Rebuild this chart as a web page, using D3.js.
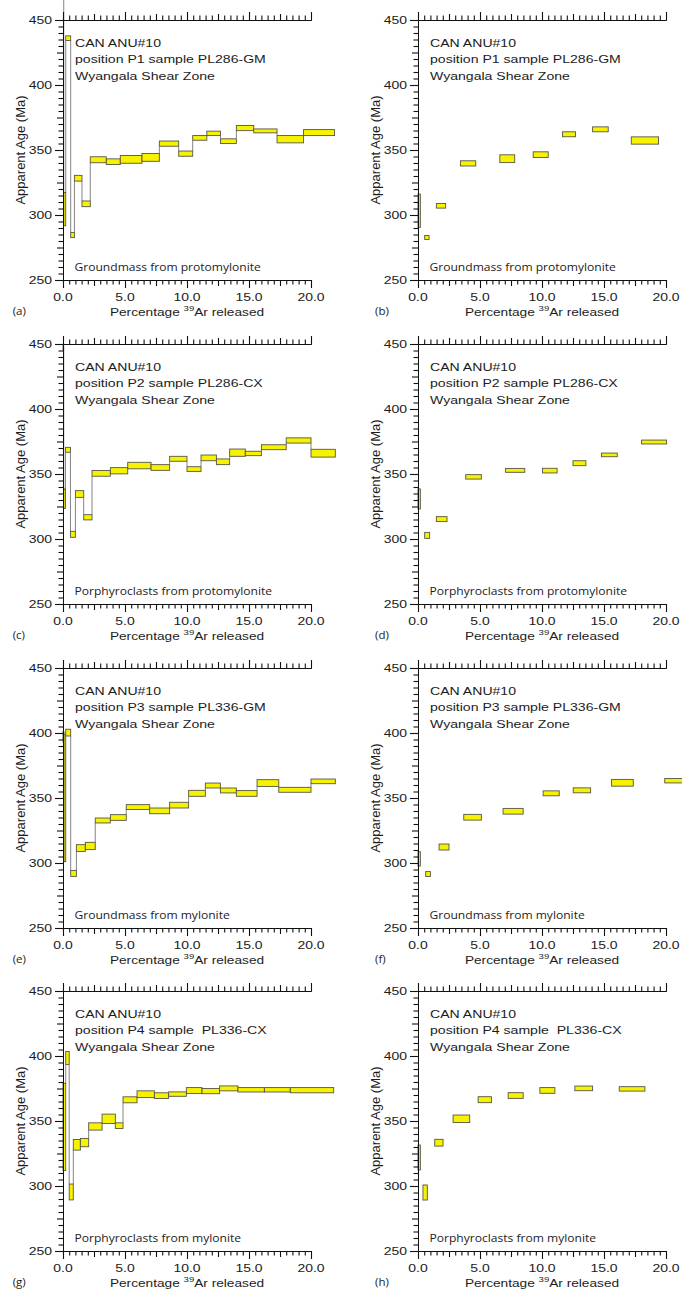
<!DOCTYPE html>
<html><head><meta charset="utf-8">
<script src="https://cdn.jsdelivr.net/npm/d3@7"></script>
<style>
html,body{margin:0;padding:0;background:#fff;}
svg{display:block;}
text{white-space:pre;}
</style></head><body>
<svg id="chart" width="682" height="1297"></svg>
<script>
// ---------- DATA ----------
// Left column: contiguous step-heating spectra (cumulative % 39Ar boundaries, age, 1-sigma error)
const boundsA = [0, 0.06, 0.22, 0.62, 0.92, 1.53, 2.2, 3.49, 4.62, 6.37, 7.77, 9.33, 10.46, 11.6, 12.7, 13.98, 15.38, 17.26, 19.4, 21.9];
const agesA   = [480, 304.5, 436, 284.6, 328.3, 308.6, 342.5, 341, 342.8, 344.3, 354.9, 347.2, 359.3, 362.8, 356.8, 366.9, 364.7, 358.3, 363.4];
const errsA   = [5, 12.8, 1.8, 2, 2.2, 2.2, 2.3, 2.2, 3, 3, 2, 2, 1.8, 1.7, 1.8, 2, 1.5, 2.8, 2.3];

const boundsC = [0, 0.06, 0.2, 0.6, 1.0, 1.67, 2.34, 3.82, 5.22, 7.1, 8.6, 10.0, 11.13, 12.37, 13.44, 14.7, 16.0, 18.0, 20.0, 21.96];
const agesC   = [447, 331, 368.6, 303.6, 334.6, 316.7, 350.5, 352.5, 356.5, 355, 361.7, 353.8, 362.4, 359.4, 366.4, 365.8, 370.6, 375.8, 366];
const errsC   = [1.5, 7.5, 1.9, 2.3, 2.6, 2, 2.2, 2.4, 2.5, 2.2, 1.9, 1.8, 2.2, 2.2, 2.8, 1.7, 1.9, 2, 3];

const boundsE = [0, 0.08, 0.22, 0.62, 1.08, 1.8, 2.6, 3.82, 5.1, 6.99, 8.6, 10.13, 11.48, 12.69, 13.98, 15.65, 17.4, 20.0, 21.96];
const agesE   = [397, 350, 400.3, 292, 311.5, 313.1, 332.7, 335, 343, 340.1, 344.5, 353.6, 359.6, 355.8, 353.5, 361.5, 356.3, 362.8];
const errsE   = [4, 49, 2.6, 2.3, 2.6, 2.8, 1.9, 2.2, 1.9, 2.2, 2.2, 2.3, 1.9, 1.9, 2.2, 2.6, 1.9, 1.8];

const boundsG = [0, 0.22, 0.5, 0.83, 1.4, 2.07, 3.15, 4.22, 4.84, 5.97, 7.37, 8.52, 9.95, 11.21, 12.63, 14.11, 16.24, 18.33, 21.83];
const agesG   = [345.5, 398.5, 295.4, 331.7, 333.4, 345.8, 351.7, 346.4, 366.3, 370.6, 369.5, 370.7, 373.4, 373, 375.1, 374, 374, 373.7];
const errsG   = [33.5, 5, 6.1, 4.1, 3.2, 2.8, 3.6, 2.2, 2.3, 2.6, 2.2, 1.7, 2.3, 2, 1.9, 1.7, 1.7, 2];

// Right column: selected steps (start %, end %, age, error)
const startB = [0, 0.54, 1.48, 3.42, 6.6, 9.29, 11.65, 14.08, 17.2];
const endB   = [0.19, 0.89, 2.23, 4.66, 7.8, 10.5, 12.7, 15.34, 19.4];
const ageB   = [303.3, 282.7, 307.1, 339.7, 343.3, 346.4, 362.1, 365.9, 357.3];
const errB   = [12.8, 1.5, 1.8, 2, 3, 2.2, 1.9, 1.9, 2.8];

const startD = [0, 0.54, 1.48, 3.85, 7.05, 10.04, 12.5, 14.8, 18.03];
const endD   = [0.19, 0.94, 2.34, 5.11, 8.61, 11.22, 13.54, 16.07, 20.05];
const ageD   = [330.8, 302.8, 315.3, 347.8, 352.8, 352.6, 358.3, 364.7, 374.6];
const errD   = [7.7, 2.3, 1.9, 1.7, 1.5, 1.8, 1.9, 1.4, 1.5];

const startF = [0, 0.62, 1.7, 3.69, 6.86, 10.09, 12.52, 15.61, 19.9];
const endF   = [0.19, 1.0, 2.5, 5.11, 8.48, 11.39, 13.92, 17.36, 21.6];
const ageF   = [303.2, 291.5, 312.3, 335.2, 339.8, 353.6, 355.9, 361.7, 363.3];
const errF   = [5.5, 1.9, 2.3, 2.2, 2.2, 1.9, 1.9, 2.6, 1.7];

const startH = [0, 0.4, 1.35, 2.83, 4.85, 7.27, 9.83, 12.65, 16.23];
const endH   = [0.19, 0.75, 2.02, 4.17, 5.92, 8.48, 11.04, 14.08, 18.3];
const ageH   = [321.9, 295, 333.3, 351.7, 366.4, 369.6, 373.5, 375.1, 374.7];
const errH   = [9.6, 5.8, 2.6, 2.9, 2.3, 2.2, 2.2, 1.8, 1.7];

// Text
const headerLine1 = "CAN ANU#10";
const positionLines = ["position P1 sample PL286-GM", "position P2 sample PL286-CX", "position P3 sample PL336-GM", "position P4 sample  PL336-CX"];
const headerLine3 = "Wyangala Shear Zone";
const notes = ["Groundmass from protomylonite", "Porphyroclasts from protomylonite", "Groundmass from mylonite", "Porphyroclasts from mylonite"];
const panelLetters = [["(a)", "(b)"], ["(c)", "(d)"], ["(e)", "(f)"], ["(g)", "(h)"]];
const yTickValues = [250, 300, 350, 400, 450];
const xTickValues = [0, 5, 10, 15, 20];
const yTitle = "Apparent Age (Ma)";
const xTitleA = "Percentage ", xTitleSup = "39", xTitleB = "Ar released";

// ---------- LAYOUT ----------
const svg = d3.select("#chart");
const colX = [63, 418];
const colW = [248, 248];
const rowT = [20, 344, 668, 991];
const plotH = 260;
const letterX = [12.7, 375];

const textCol = "#1c1c1c";
const axisCol = "#111";
const fillYellow = "#f6f200";
const boxStroke = "#555548";
const linkCol = "#858585";

const spectra = [
  {b: boundsA, a: agesA, e: errsA},
  {b: boundsC, a: agesC, e: errsC},
  {b: boundsE, a: agesE, e: errsE},
  {b: boundsG, a: agesG, e: errsG}
];
const selected = [
  {s: startB, t: endB, a: ageB, e: errB},
  {s: startD, t: endD, a: ageD, e: errD},
  {s: startF, t: endF, a: ageF, e: errF},
  {s: startH, t: endH, a: ageH, e: errH}
];

function stext(g, x, y, str, o) {
  const t = g.append("g")
    .attr("transform", `translate(${x},${y}) scale(${o.sx || 1},1)`)
    .append("text")
    .attr("text-anchor", o.anchor || "start")
    .style("font-family", o.family || "'Liberation Sans', Arial, sans-serif")
    .style("font-size", o.size + "px")
    .attr("fill", o.fill || textCol);
  if (str !== null) t.text(str);
  return t;
}

function drawPanel(row, col) {
  const X0 = colX[col], T = rowT[row], B = T + plotH;
  const x = d3.scaleLinear().domain([0, 20]).range([X0, X0 + colW[col]]);
  const y = d3.scaleLinear().domain([250, 450]).range([B, T]);
  const g = svg.append("g");

  // ---- data marks ----
  const marks = g.append("g");
  let steps;
  if (col === 0) {
    const sp = spectra[row];
    const n = sp.a.length;
    for (let i = 0; i < n - 1; i++) {
      const lo0 = sp.a[i] - sp.e[i], hi0 = sp.a[i] + sp.e[i];
      const lo1 = sp.a[i + 1] - sp.e[i + 1], hi1 = sp.a[i + 1] + sp.e[i + 1];
      let y0, y1;
      if (lo1 > hi0) { y0 = hi0; y1 = lo1; }
      else if (hi1 < lo0) { y0 = lo0; y1 = hi1; }
      else continue;
      marks.append("line")
        .attr("x1", x(sp.b[i + 1])).attr("x2", x(sp.b[i + 1]))
        .attr("y1", y(y0)).attr("y2", y(y1))
        .attr("stroke", linkCol).attr("stroke-width", 1);
    }
    steps = d3.range(n).map(i => ({x0: sp.b[i], x1: sp.b[i + 1], age: sp.a[i], err: sp.e[i]}));
  } else {
    const sp = selected[row];
    steps = sp.a.map((a, i) => ({x0: sp.s[i], x1: sp.t[i], age: a, err: sp.e[i]}));
  }
  marks.selectAll("rect.step").data(steps).join("rect")
    .attr("x", d => x(d.x0)).attr("width", d => x(d.x1) - x(d.x0))
    .attr("y", d => y(d.age + d.err)).attr("height", d => y(d.age - d.err) - y(d.age + d.err))
    .attr("fill", fillYellow).attr("stroke", boxStroke).attr("stroke-width", 0.9);

  // ---- axes (left, top, bottom; minor / mid / major ticks, all outward) ----
  const yMinor = d3.range(250, 451, 5).filter(v => v % 25 !== 0);
  const yMid = d3.range(275, 451, 50);
  const xMinor = d3.range(0, 20.01, 0.5).filter(v => Math.abs(v / 2.5 - Math.round(v / 2.5)) > 1e-6);
  const xMid = [2.5, 7.5, 12.5, 17.5];

  const ax = g.append("g");
  const axisSets = [
    [d3.axisLeft, `translate(${X0},0)`, y, [[yMinor, 4.5], [yMid, 6], [yTickValues, 8]]],
    [d3.axisTop, `translate(0,${T})`, x, [[xMinor, 4.5], [xMid, 6], [xTickValues, 8]]],
    [d3.axisBottom, `translate(0,${B})`, x, [[xMinor, 4.5], [xMid, 6], [xTickValues, 8]]]
  ];
  axisSets.forEach(([fn, tr, sc, sets]) => {
    sets.forEach(([vals, len]) => {
      const a = ax.append("g").attr("transform", tr)
        .call(fn(sc).tickValues(vals).tickSize(len).tickSizeOuter(0).tickFormat(""))
        .attr("color", axisCol);
      a.selectAll(".tick line").attr("stroke-width", 1.1);
    });
  });

  // ---- tick labels ----
  yTickValues.forEach(v => stext(g, X0 - 11, y(v) + 4, String(v), {size: 11, sx: 1.27, anchor: "end"}));
  xTickValues.forEach(v => stext(g, x(v), B + 21, v.toFixed(1), {size: 11, sx: 1.27, anchor: "middle"}));

  // ---- titles ----
  const xt = stext(g, X0 + colW[col] / 2, B + 35.5, null, {size: 11.5, sx: 1.19, anchor: "middle"});
  xt.append("tspan").text(xTitleA);
  xt.append("tspan").attr("dy", -5).style("font-size", "8px").text(xTitleSup);
  xt.append("tspan").attr("dy", 5).text(xTitleB);

  g.append("text")
    .attr("transform", `translate(${X0 - 38},${T + plotH / 2}) rotate(-90)`)
    .attr("text-anchor", "middle")
    .style("font-family", "'Liberation Sans', Arial, sans-serif")
    .style("font-size", "13px").attr("fill", textCol).text(yTitle);

  // ---- annotations ----
  stext(g, X0 + 12, T + 27, headerLine1, {size: 11, sx: 1.28});
  stext(g, X0 + 12, T + 43.3, positionLines[row], {size: 11, sx: 1.28});
  stext(g, X0 + 12, T + 59.6, headerLine3, {size: 11, sx: 1.28});
  stext(g, X0 + 11.5, T + 250.5, notes[row], {size: 11.5, sx: 1.05, family: "'Open Sans', sans-serif"});
  stext(g, letterX[col], B + 34.5, panelLetters[row][col], {size: 11.5, sx: 1.0, family: "'Open Sans', sans-serif"});
}

for (let r = 0; r < 4; r++) for (let c = 0; c < 2; c++) drawPanel(r, c);
</script>
</body></html>
